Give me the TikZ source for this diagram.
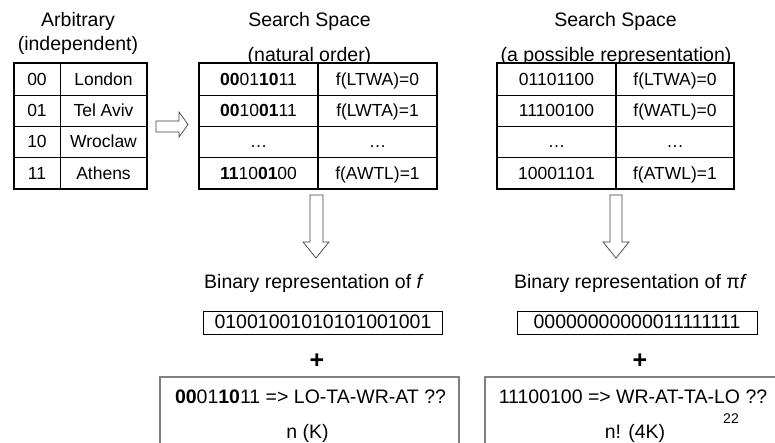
\documentclass[tikz,border=0pt]{standalone}
\usepackage{fontspec}
\setmainfont{Liberation Sans}
\begin{document}
\begin{tikzpicture}[x=1pt,y=-1pt,
  headtxt/.style={font=\fontsize{19.5}{22}\selectfont, inner sep=0, anchor=base},
  celltxt/.style={font=\fontsize{17.5}{20}\selectfont, inner sep=0, anchor=base},
  gridline/.style={line width=0.8pt},
  colsep/.style={line width=1.6pt},
  frame/.style={line width=2.2pt},
  blockarrow/.style={draw=black!75, line width=0.7pt, fill=white, line join=miter},
  binbox/.style={draw=black, line width=0.8pt},
  greybox/.style={draw=black!50, line width=1.4pt}
]
\clip (0,0) rectangle (775,443);
\useasboundingbox (0,0) rectangle (775,443);

% ---------- headings ----------
\node[headtxt] (h1a) at (78,27) {Arbitrary};
\node[headtxt] (h1b) at (78,51) {(independent)};
\node[headtxt] (h2a) at (309.5,27) {Search Space};
\node[headtxt] (h2b) at (309.5,62) {(natural order)};
\node[headtxt] (h3a) at (615.5,27) {Search Space};
\node[headtxt] (h3b) at (616,62) {(a possible representation)};

% ---------- table frames (white fill hides descenders) ----------
\fill[white] (14,63) rectangle (147,189);
\fill[white] (199,63) rectangle (437,189);
\fill[white] (497,63) rectangle (734,189);

% left table
\foreach \yy in {95,126,157} \draw[gridline] (14,\yy) -- (147,\yy);
\draw[gridline] (60,63) -- (60,189);
\draw[frame] (14,63) rectangle (147,189);
% middle table
\foreach \yy in {95,126,157} \draw[gridline] (199,\yy) -- (437,\yy);
\draw[colsep] (318,63) -- (318,189);
\draw[frame] (199,63) rectangle (437,189);
% right table
\foreach \yy in {95,126,157} \draw[gridline] (497,\yy) -- (734,\yy);
\draw[colsep] (616,63) -- (616,189);
\draw[frame] (497,63) rectangle (734,189);

% ---------- left table cells ----------
\node[celltxt] (a1) at (37,85.3) {00};
\node[celltxt] (a2) at (37,116.8) {01};
\node[celltxt] (a3) at (37,147.8) {10};
\node[celltxt] (a4) at (37,179.3) {11};
\node[celltxt] (b1) at (103.5,85.3) {London};
\node[celltxt] (b2) at (103.5,116.8) {Tel Aviv};
\node[celltxt] (b3) at (103.5,147.8) {Wroclaw};
\node[celltxt] (b4) at (103.5,179.3) {Athens};

% ---------- middle table cells ----------
\node[celltxt] (c1) at (258.5,85.3) {\textbf{00}01\textbf{10}11};
\node[celltxt] (c2) at (258.5,116.8) {\textbf{00}10\textbf{01}11};
\node[celltxt] (c3) at (258.5,147.8) {…};
\node[celltxt] (c4) at (258.5,179.3) {\textbf{11}10\textbf{01}00};
\node[celltxt] (d1) at (377.5,85.3) {f(LTWA)=0};
\node[celltxt] (d2) at (377.5,116.8) {f(LWTA)=1};
\node[celltxt] (d3) at (377.5,147.8) {…};
\node[celltxt] (d4) at (377.5,179.3) {f(AWTL)=1};

% ---------- right table cells ----------
\node[celltxt] (e1) at (556.5,85.3) {01101100};
\node[celltxt] (e2) at (556.5,116.8) {11100100};
\node[celltxt] (e3) at (556.5,147.8) {…};
\node[celltxt] (e4) at (556.5,179.3) {10001101};
\node[celltxt] (f1) at (675,85.3) {f(LTWA)=0};
\node[celltxt] (f2) at (675,116.8) {f(WATL)=0};
\node[celltxt] (f3) at (675,147.8) {…};
\node[celltxt] (f4) at (675,179.3) {f(ATWL)=1};

% ---------- block arrows ----------
\draw[blockarrow] (156,121) -- (179,121) -- (179,112) -- (188,124.5) -- (179,137)
  -- (179,132) -- (156,132) -- cycle;
\draw[blockarrow] (310,195) -- (323,195) -- (323,242) -- (329,242) -- (316,258)
  -- (303,242) -- (310,242) -- cycle;
\draw[blockarrow] (610,195) -- (622,195) -- (622,242) -- (629,242) -- (616,258)
  -- (603,242) -- (610,242) -- cycle;

% ---------- binary representations ----------
\node[headtxt] (g1) at (314,288) {Binary representation of \textit{f}};
\node[headtxt] (g2) at (630.5,288) {Binary representation of π\textit{f}};
\draw[binbox] (203,311) rectangle (442,334);
\draw[binbox] (517,311) rectangle (757,334);
\node[headtxt] (k1) at (323,328) {01001001010101001001};
\node[headtxt] (k2) at (637,328) {00000000000011111111};

% ---------- plus signs ----------
\node[inner sep=0, font=\fontsize{25}{28}\selectfont\bfseries] (p1) at (317,361) {+};
\node[inner sep=0, font=\fontsize{25}{28}\selectfont\bfseries] (p2) at (640,361) {+};

% ---------- bottom boxes ----------
\draw[greybox] (160,377) rectangle (459,460);
\draw[greybox] (485,377) rectangle (790,460);
\node[headtxt] (m1) at (310.5,403) {\textbf{00}01\textbf{10}11 => LO-TA-WR-AT ??};
\node[headtxt] (m2) at (633,403) {11100100 => WR-AT-TA-LO ??};
\node[headtxt] (n1) at (307.5,438) {n (K)};
\node[headtxt] (n2) at (635,438) {n! (4K)};
\node[inner sep=0, anchor=base, font=\fontsize{14}{16}\selectfont] (pg) at (731,423) {22};
\end{tikzpicture}
\end{document}
